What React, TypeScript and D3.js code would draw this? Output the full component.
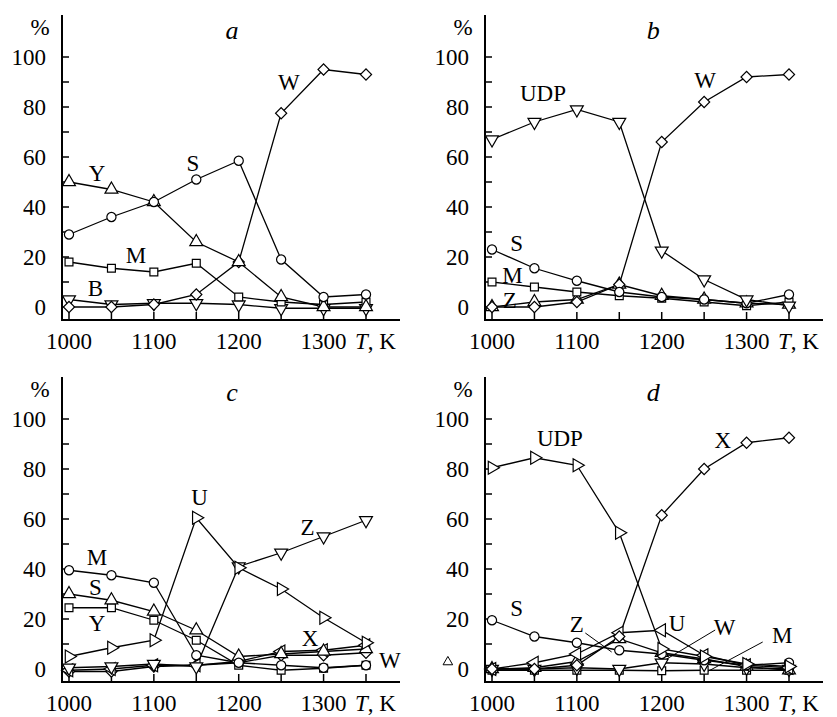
import React from "react";
import * as d3 from "d3";

// temperature grid, K
const temps = [1000, 1050, 1100, 1150, 1200, 1250, 1300, 1350];
const xTicks = [1000, 1050, 1100, 1150, 1200, 1250, 1300, 1350];
const xTickLabels = [1000, 1100, 1200, 1300];
const yMajor = [0, 20, 40, 60, 80, 100];
const yMinor = [10, 30, 50, 70, 90];

// panel a
const aS = [29, 36, 42, 51, 58.5, 19, 4, 5];
const aY = [50, 47, 42, 26, 18, 4, 0, 0];
const aW = [0, 0, 1, 5, 18, 77.5, 95, 93];
const aM = [18, 15.5, 14, 17.5, 4, 2, 1, 2];
const aB = [3, 1, 1.5, 1.5, 1, -0.5, -0.5, -0.5];

// panel b
const bUDP = [67, 74, 79, 74, 22.5, 11, 3, 0.5];
const bW = [0, 0, 2, 9, 66, 82, 92, 93];
const bS = [23, 15.5, 10.5, 6, 4, 3, 1.5, 5];
const bM = [10, 8, 6, 4.5, 3.5, 2, 0.5, 2];
const bZ = [0, 2, 3, 9, 4.5, 3, 1.5, 1];

// panel c
const cM = [39.5, 37.5, 34.5, 5.5, 2.5, 1.5, 0.5, 1.5];
const cS = [30, 27.5, 23, 15.5, 5, 6, 7, 8];
const cY = [24.5, 24.5, 19.5, 11.5, 1.5, -0.5, 0.3, 1.5];
const cU = [5, 8.5, 11.5, 60.5, 40.5, 32, 20.5, 10.5];
const cZ = [0.5, 1, 2, 1, 41, 46.5, 53, 59.5];
const cX = [-0.5, 0, 1.5, 1.5, 3, 7, 7.5, 9.5];
const cW = [-1, -1, 1, 1.5, 2.5, 5.5, 5.5, 6.5];

// panel d
const dUDP = [80.5, 84.5, 81.5, 54.5, 8, 5, 2, 1];
const dX = [0, 0, 1.5, 13, 61.5, 80, 90.5, 92.5];
const dS = [19.5, 13, 10.5, 7.5, 6, 3.5, 1.5, 2.5];
const dU = [0, 2.5, 6, 14.5, 15.5, 5.5, 1.5, 0.5];
const dZ = [0, 0.5, 3, 12, 6.5, 4, 1, -0.5];
const dW = [0, 0, 0.5, 0, 2.5, 2, 0.5, 0];
const dM = [-0.5, -0.5, -0.5, -0.5, -0.7, -0.5, -0.5, -0.5];

type Shape = "circle" | "square" | "diamond" | "up" | "down" | "left" | "right";
type Series = { values: number[]; shape: Shape };
type Label = { text: string; t: number; v: number; italic?: boolean };
type Leader = { t1: number; v1: number; t2: number; v2: number };

const panels = [
  {
    dx: 0,
    dy: 0,
    series: [
      { values: aB, shape: "down" },
      { values: aW, shape: "diamond" },
      { values: aM, shape: "square" },
      { values: aY, shape: "up" },
      { values: aS, shape: "circle" },
    ] as Series[],
    labels: [
      { text: "a", t: 1192, v: 111, italic: true },
      { text: "Y", t: 1033, v: 53.6 },
      { text: "S", t: 1146, v: 57.6 },
      { text: "W", t: 1259, v: 90 },
      { text: "M", t: 1079, v: 20.8 },
      { text: "B", t: 1031, v: 7.6 },
    ] as Label[],
    leaders: [] as Leader[],
    extra: [] as { t: number; v: number; shape: Shape }[],
  },
  {
    dx: 423,
    dy: 0,
    series: [
      { values: bZ, shape: "up" },
      { values: bW, shape: "diamond" },
      { values: bM, shape: "square" },
      { values: bS, shape: "circle" },
      { values: bUDP, shape: "down" },
    ] as Series[],
    labels: [
      { text: "b", t: 1190, v: 111, italic: true },
      { text: "UDP", t: 1060, v: 85.6 },
      { text: "W", t: 1251, v: 90.8 },
      { text: "S", t: 1029, v: 25.6 },
      { text: "M", t: 1024, v: 13 },
      { text: "Z", t: 1021, v: 3 },
    ] as Label[],
    leaders: [] as Leader[],
    extra: [] as { t: number; v: number; shape: Shape }[],
  },
  {
    dx: 0,
    dy: 362,
    series: [
      { values: cW, shape: "diamond" },
      { values: cX, shape: "left" },
      { values: cZ, shape: "down" },
      { values: cY, shape: "square" },
      { values: cS, shape: "up" },
      { values: cM, shape: "circle" },
      { values: cU, shape: "right" },
    ] as Series[],
    labels: [
      { text: "c", t: 1192, v: 111, italic: true },
      { text: "U", t: 1154, v: 68.8 },
      { text: "Z", t: 1281, v: 56.8 },
      { text: "M", t: 1033, v: 44.8 },
      { text: "S", t: 1031, v: 32.8 },
      { text: "Y", t: 1033, v: 18.4 },
      { text: "X", t: 1284, v: 12.4 },
      { text: "W", t: 1378, v: 3.6 },
    ] as Label[],
    leaders: [] as Leader[],
    extra: [] as { t: number; v: number; shape: Shape }[],
  },
  {
    dx: 423,
    dy: 362,
    series: [
      { values: dM, shape: "square" },
      { values: dW, shape: "down" },
      { values: dZ, shape: "up" },
      { values: dU, shape: "left" },
      { values: dS, shape: "circle" },
      { values: dX, shape: "diamond" },
      { values: dUDP, shape: "right" },
    ] as Series[],
    labels: [
      { text: "d", t: 1190, v: 111, italic: true },
      { text: "UDP", t: 1080, v: 92.4 },
      { text: "X", t: 1272, v: 91.6 },
      { text: "S", t: 1029, v: 24.4 },
      { text: "Z", t: 1100, v: 18 },
      { text: "U", t: 1218, v: 18.4 },
      { text: "W", t: 1274, v: 16.8 },
      { text: "M", t: 1342, v: 13.6 },
    ] as Label[],
    leaders: [
      { t1: 1110, v1: 14.4, t2: 1141, v2: 6.8 },
      { t1: 1263, v1: 15.6, t2: 1200, v2: 2.8 },
      { t1: 1319, v1: 10.8, t2: 1253, v2: -1.2 },
    ] as Leader[],
    extra: [{ t: 948, v: 2.8, shape: "up" }] as { t: number; v: number; shape: Shape }[],
  },
];

const font = "'Liberation Serif', 'Times New Roman', serif";
const fs = 23;

function markerPath(shape: Shape) {
  if (shape === "circle") return d3.symbol(d3.symbolCircle, 66)()!;
  if (shape === "square" || shape === "diamond") return d3.symbol(d3.symbolSquare, 62)()!;
  return d3.symbol(d3.symbolTriangle, 72)()!;
}

const rotation: Record<Shape, number> = {
  circle: 0,
  square: 0,
  diamond: 45,
  up: 0,
  down: 180,
  left: -90,
  right: 90,
};

function Panel({ p }: { p: (typeof panels)[number] }) {
  const x = d3.scaleLinear().domain([1000, 1350]).range([69, 366]);
  const y = d3.scaleLinear().domain([0, 100]).range([307, 57]);
  const axisY = 320;
  const axisX = 62;
  const line = d3
    .line<number>()
    .x((_, i) => x(temps[i]))
    .y((d) => y(d));

  return (
    <g transform={`translate(${p.dx},${p.dy})`} fontFamily={font} fontSize={fs}>
      {/* axes */}
      <line x1={axisX} x2={axisX} y1={15} y2={axisY + 1} stroke="#000" strokeWidth={2} />
      <line x1={axisX - 1} x2={400} y1={axisY} y2={axisY} stroke="#000" strokeWidth={2} />
      {yMajor.concat(yMinor).map((v) => (
        <line key={"yt" + v} x1={axisX} x2={axisX + 7} y1={y(v)} y2={y(v)} stroke="#000" strokeWidth={1.5} />
      ))}
      {xTicks.map((t) => (
        <line key={"xt" + t} x1={x(t)} x2={x(t)} y1={axisY} y2={axisY - 8} stroke="#000" strokeWidth={1.5} />
      ))}
      {yMajor.map((v) => (
        <text key={"yl" + v} x={46} y={y(v)} dy="0.35em" textAnchor="end">
          {v}
        </text>
      ))}
      {xTickLabels.map((t) => (
        <text key={"xl" + t} x={x(t)} y={349} textAnchor="middle">
          {t}
        </text>
      ))}
      <text x={355} y={349}>
        <tspan fontStyle="italic">T</tspan>, K
      </text>
      <text x={40} y={y(112)} dy="0.35em" textAnchor="middle">
        %
      </text>

      {/* lines */}
      {p.series.map((s, i) => (
        <path key={"l" + i} d={line(s.values)!} fill="none" stroke="#000" strokeWidth={1.3} />
      ))}
      {p.leaders.map((l, i) => (
        <line key={"ld" + i} x1={x(l.t1)} y1={y(l.v1)} x2={x(l.t2)} y2={y(l.v2)} stroke="#000" strokeWidth={1} />
      ))}

      {/* markers */}
      {p.series.map((s, i) =>
        s.values.map((v, j) => (
          <path
            key={"m" + i + "-" + j}
            d={markerPath(s.shape)}
            transform={`translate(${x(temps[j])},${y(v)}) rotate(${rotation[s.shape]})`}
            fill="#fff"
            stroke="#000"
            strokeWidth={1.2}
          />
        ))
      )}
      {p.extra.map((m, i) => (
        <path
          key={"e" + i}
          d={d3.symbol(d3.symbolTriangle, 40)()!}
          transform={`translate(${x(m.t)},${y(m.v)})`}
          fill="#fff"
          stroke="#000"
          strokeWidth={1}
        />
      ))}

      {/* labels */}
      {p.labels.map((l, i) => (
        <text
          key={"t" + i}
          x={x(l.t)}
          y={y(l.v)}
          dy="0.35em"
          textAnchor="middle"
          fontStyle={l.italic ? "italic" : "normal"}
          fontSize={l.italic ? 26 : fs}
        >
          {l.text}
        </text>
      ))}
    </g>
  );
}

export default function App() {
  return (
    <svg
      width={837}
      height={717}
      style={{ position: "absolute", left: 0, top: 0, background: "#fff" }}
    >
      {panels.map((p, i) => (
        <Panel key={i} p={p} />
      ))}
    </svg>
  );
}
